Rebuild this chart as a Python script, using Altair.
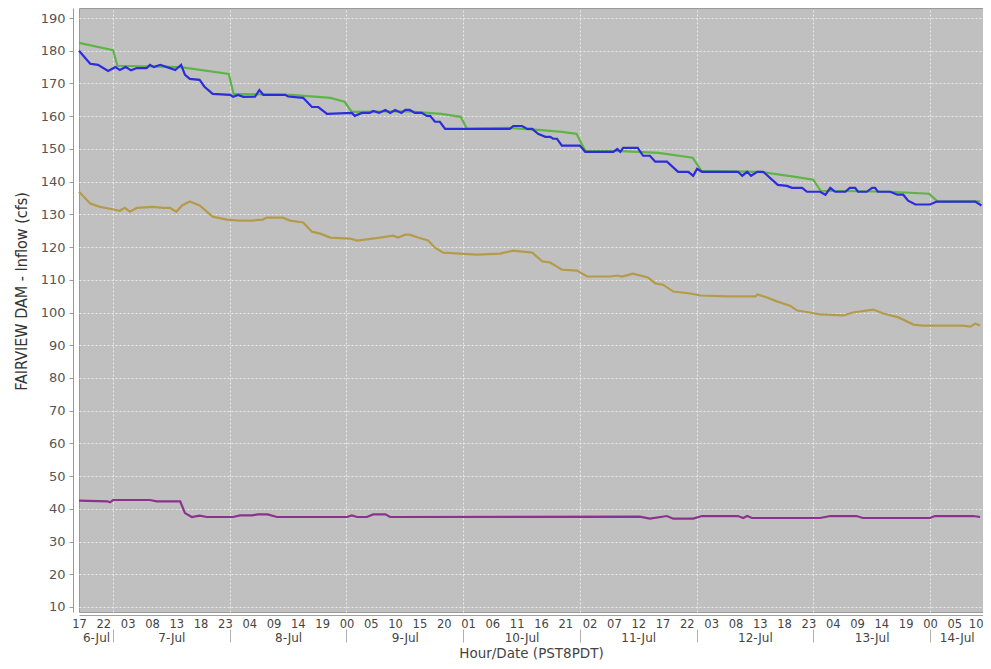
import altair as alt
import pandas as pd
from datetime import datetime, timedelta, timezone

# ---- data (hours after 6-Jul 17:00, PST8PDT) ----
START = datetime(2015, 7, 6, 17, 0, tzinfo=timezone.utc)

green_h = [0, 7.0, 7.9, 20.9, 30.8, 31.8, 43.7, 51.7, 54.6, 56.1, 67.6, 74.5, 78.5, 79.8, 88.4,
           94.4, 99.3, 102.3, 104.1, 110.3, 119.2, 126.2, 128.0, 140.1, 147.0, 151.0, 152.5,
           166.9, 174.8, 176.6, 185.3]
green_v = [182.4, 180.2, 175.4, 175, 172.9, 166.8, 166.5, 165.6, 164.4, 161.3, 161.5, 160.7,
           159.8, 156.1, 156.4, 155.8, 155.2, 154.6, 149.4, 149.4, 148.8, 147.3, 143.3, 143,
           141.5, 140.6, 137.2, 136.9, 136.3, 133.9, 134]

blue_h = [0, 2.3, 3.9, 6.0, 7.5, 8.4, 9.6, 10.7, 11.9, 13.9, 14.6, 15.4, 16.7, 18.1, 19.8, 21.0,
          21.8, 22.8, 24.8, 25.8, 27.5, 31.1, 31.7, 32.7, 33.8, 36.2, 37.1, 37.9, 42.4, 43.0,
          46.1, 47.9, 49.2, 51.0, 56.1, 56.7, 58.2, 59.8, 60.5, 61.7, 63.0, 64.0, 65.0, 66.3,
          67.1, 68.0, 69.1, 70.5, 71.5, 72.2, 73.2, 74.2, 75.3, 88.6, 89.3, 91.1, 92.2, 93.2,
          94.4, 95.9, 96.9, 97.5, 98.3, 99.3, 103.0, 104.1, 109.9, 110.7, 111.3, 111.9, 114.9,
          116.0, 117.4, 118.5, 120.9, 123.2, 125.3, 126.3, 127.1, 128.1, 135.5, 136.4, 137.4,
          138.2, 139.5, 140.7, 143.7, 145.6, 146.6, 148.7, 149.7, 152.4, 153.5, 154.5, 155.5,
          157.6, 158.5, 159.6, 160.2, 162.0, 163.1, 163.7, 164.3, 166.8, 168.3, 169.5, 170.5,
          172.0, 175.0, 176.4, 184.3, 185.6]
blue_v = [180, 176, 175.7, 173.8, 175, 174.1, 175, 174, 174.7, 174.7, 175.7, 175, 175.7, 175,
          174.1, 175.7, 172.6, 171.4, 171.1, 169, 166.8, 166.5, 165.9, 166.5, 165.9, 166, 168,
          166.5, 166.5, 166, 165.6, 162.8, 162.8, 160.7, 161, 160.1, 161, 161, 161.6, 161, 161.9,
          161, 161.9, 161, 161.9, 161.9, 161, 161, 160.1, 160.1, 158.3, 158.3, 156.1, 156.1, 157,
          157, 156.1, 156.1, 154.6, 153.7, 153.7, 153.1, 153.1, 151, 151, 149.1, 149.1, 150,
          149.1, 150.3, 150.3, 147.9, 147.9, 146.1, 146.1, 143, 143, 141.8, 143.9, 143, 143,
          141.8, 143, 141.8, 143, 143, 139, 138.7, 138.1, 138.1, 136.9, 136.9, 136, 138.1, 136.9,
          136.9, 138.1, 138.1, 136.9, 136.9, 138.1, 138.1, 136.9, 136.9, 136, 136, 134.2, 133,
          133, 133.9, 133.9, 132.7]

gold_h = [0, 2.3, 4.3, 6.4, 8.4, 9.4, 10.5, 11.9, 15.2, 17.3, 18.7, 20.0, 21.2, 22.8, 24.8, 27.5,
          30.4, 33.1, 35.8, 37.8, 38.6, 41.9, 43.4, 46.1, 47.9, 49.6, 51.7, 55.7, 57.2, 61.9,
          64.6, 65.6, 67.1, 68.0, 69.7, 71.8, 73.2, 74.9, 78.4, 81.9, 86.6, 89.3, 93.2, 95.3,
          96.9, 99.3, 102.4, 104.5, 109.2, 110.7, 111.7, 113.9, 117.0, 118.5, 120.1, 122.2,
          125.7, 127.8, 133.3, 139.1, 139.5, 141.5, 143.5, 146.2, 147.7, 150.3, 152.4, 157.2,
          159.1, 163.3, 165.4, 168.5, 171.6, 173.5, 181.8, 183.3, 184.3, 185.3]
gold_v = [136.9, 133.3, 132.3, 131.7, 131.1, 132, 130.8, 132, 132.3, 132, 132, 130.8, 132.7,
          133.9, 132.7, 129.3, 128.4, 128.1, 128.1, 128.4, 129, 129, 128.1, 127.5, 124.7, 124.1,
          122.9, 122.6, 122, 122.9, 123.5, 122.9, 123.8, 123.8, 122.9, 122, 119.8, 118.3, 118,
          117.7, 118, 118.9, 118.3, 115.6, 115.3, 113.1, 112.8, 111, 111, 111.3, 111, 111.9,
          110.7, 108.9, 108.5, 106.4, 105.8, 105.2, 104.9, 104.9, 105.5, 104.6, 103.4, 102.1,
          100.6, 100, 99.4, 99.1, 100, 100.9, 99.7, 98.5, 96.3, 96, 96, 95.7, 96.6, 96]

purple_h = [0, 5.8, 6.4, 7.0, 14.6, 16.0, 20.8, 21.8, 23.2, 24.8, 26.3, 31.7, 33.1, 35.6, 36.7,
            38.8, 40.7, 55.1, 56.1, 57.2, 59.2, 60.5, 63.0, 64.0, 115.3, 117.4, 120.9, 122.2,
            126.3, 128.1, 135.5, 136.6, 137.4, 138.4, 152.4, 154.5, 159.9, 161.2, 175.0, 176.0,
            183.9, 185.3]
purple_v = [42.5, 42.3, 42, 42.7, 42.7, 42.3, 42.3, 38.7, 37.5, 37.9, 37.5, 37.5, 38, 38, 38.3,
            38.3, 37.5, 37.5, 38, 37.5, 37.5, 38.3, 38.3, 37.5, 37.6, 37, 37.8, 37, 37, 37.8,
            37.8, 37.2, 37.8, 37.2, 37.2, 37.8, 37.8, 37.2, 37.2, 37.8, 37.8, 37.5]

series_names = ["gold", "purple", "green", "blue"]
series_colors = ["#b49b4b", "#8c328c", "#5fb446", "#2c2cdc"]

hour_ticks = list(range(0, 186, 5))              # every 5 hours from 6-Jul 17:00
midnights = [7, 31, 55, 79, 103, 127, 151, 175]  # day boundaries
day_mids = [3.5, 19, 43, 67, 91, 115, 139, 163, 180.5]
y_ticks = list(range(10, 191, 10))
X_END = 185.9


def ms(h):
    return int((START + timedelta(hours=h)).timestamp() * 1000)


rows = []
for name, hs, vs in [("gold", gold_h, gold_v), ("purple", purple_h, purple_v),
                     ("green", green_h, green_v), ("blue", blue_h, blue_v)]:
    for h, v in zip(hs, vs):
        rows.append({"t": ms(h), "v": v, "s": name})
df = pd.DataFrame(rows)

xscale = alt.Scale(type="utc", domain=[ms(0), ms(X_END)], nice=False)
LABEL_FONT = "DejaVu Sans"

last_tick_test = "datum.value > %d" % ms(hour_ticks[-1] - 1)
hour_axis = alt.Axis(values=[ms(h) for h in hour_ticks], format="%H", orient="bottom",
                     ticks=False, tickSize=0, labelPadding=3, offset=3, grid=False,
                     domainColor="#a0a0a0", labelFont=LABEL_FONT, labelFontSize=11.5,
                     labelColor="#444", title=None, labelFlush=False, labelOverlap=False,
                     labelOffset={"condition": {"test": last_tick_test, "value": -3}, "value": 0})

y_axis = alt.Axis(values=y_ticks, title="FAIRVIEW DAM - Inflow (cfs)", offset=6, tickSize=4,
                  tickColor="#999", domainColor="#999", labelFont=LABEL_FONT,
                  labelFontSize=13, labelColor="#555", labelPadding=4, grid=True,
                  gridColor="#eeeeee", gridDash=[2, 2], gridOpacity=0.9,
                  titleFont="Liberation Sans Narrow, DejaVu Sans Condensed, Liberation Sans",
                  titleFontSize=16, titleFontWeight="normal", titleColor="#333",
                  titleX=-44, titleY=283, titleAngle=-90, titleAlign="center",
                  titleBaseline="bottom")

lines = alt.Chart(df).mark_line(strokeWidth=2.2).encode(
    x=alt.X("t:T", scale=xscale, axis=hour_axis),
    y=alt.Y("v:Q", scale=alt.Scale(domain=[8.47, 193.06], nice=False, zero=False), axis=y_axis),
    color=alt.Color("s:N", scale=alt.Scale(domain=series_names, range=series_colors), legend=None),
)

day_df = pd.DataFrame({"t": [ms(h) for h in day_mids]})
day_axis = alt.Axis(values=[ms(h) for h in day_mids], format="%-d-%b", orient="bottom",
                    ticks=False, tickSize=0, domain=False, offset=17, labelPadding=3,
                    grid=False, labelFont=LABEL_FONT, labelFontSize=12, labelColor="#444",
                    title="Hour/Date (PST8PDT)", titleFont=LABEL_FONT, titleFontSize=13.5,
                    titleFontWeight="normal", titleColor="#444", titlePadding=3,
                    labelFlush=False, labelOverlap=False)
days = alt.Chart(day_df).mark_point(opacity=0).encode(x=alt.X("t:T", scale=xscale, axis=day_axis))

mid_df = pd.DataFrame({"t": [ms(h) for h in midnights]})
sep_axis = alt.Axis(values=[ms(h) for h in midnights], orient="bottom", labels=False,
                    domain=False, ticks=True, tickSize=13, tickColor="#b0b0b0", offset=17,
                    grid=True, gridColor="#eeeeee", gridDash=[2, 2], gridOpacity=0.9,
                    title=None)
seps = alt.Chart(mid_df).mark_point(opacity=0).encode(x=alt.X("t:T", scale=xscale, axis=sep_axis))

chart = alt.layer(seps, lines, days).resolve_scale(x="shared").resolve_axis(x="independent").properties(
    width=904, height=604,
    autosize=alt.AutoSizeParams(type="none"),
    padding={"left": 71, "top": 0, "right": 0, "bottom": 49},
    background="white",
).configure_view(fill="#c0c0c0", stroke="#9a9a9a", strokeWidth=1)

chart.save("out.html", embed_options={"renderer": "svg", "actions": False})
